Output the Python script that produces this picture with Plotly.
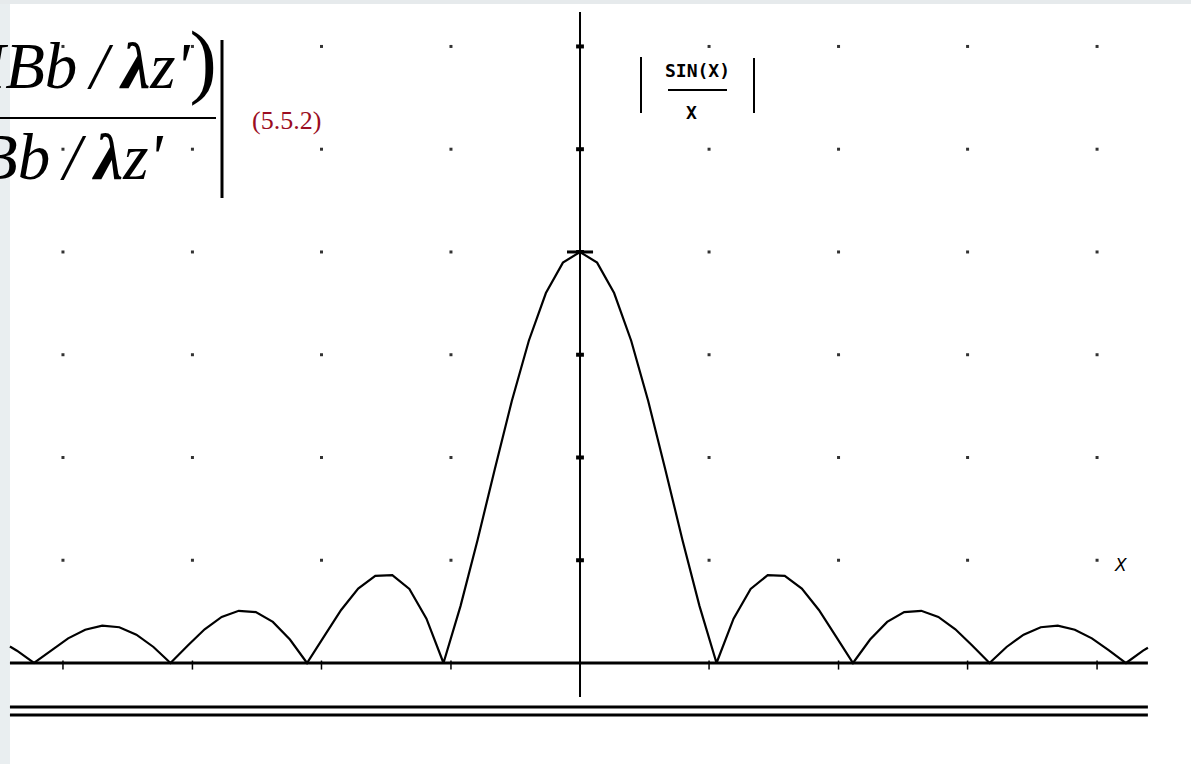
import plotly.graph_objects as go

# ---- data ----
x_pos = [0.0, 0.393, 0.785, 1.178, 1.571, 1.963, 2.356, 2.749, 3.142, 3.534, 3.927, 4.320,
         4.712, 5.105, 5.498, 5.890, 6.283, 6.676, 7.069, 7.461, 7.854, 8.247, 8.639, 9.032,
         9.425, 9.817, 10.210, 10.603, 10.996, 11.388, 11.781, 12.174, 12.566, 12.959, 13.07]
y_pos = [1.0, 0.974, 0.900, 0.784, 0.637, 0.471, 0.300, 0.139, 0.0, 0.108, 0.180, 0.214,
         0.212, 0.181, 0.129, 0.065, 0.0, 0.057, 0.100, 0.124, 0.127, 0.112, 0.082, 0.042,
         0.0, 0.039, 0.069, 0.087, 0.091, 0.081, 0.060, 0.031, 0.0, 0.030, 0.037]
x_neg = [-13.12, -12.959, -12.566, -12.174, -11.781, -11.388, -10.996, -10.603, -10.210,
         -9.817, -9.425, -9.032, -8.639, -8.247, -7.854, -7.461, -7.069, -6.676, -6.283,
         -5.890, -5.498, -5.105, -4.712, -4.320, -3.927, -3.534, -3.142, -2.749, -2.356,
         -1.963, -1.571, -1.178, -0.785, -0.393]
y_neg = [0.040, 0.030, 0.0, 0.031, 0.060, 0.081, 0.091, 0.087, 0.069,
         0.039, 0.0, 0.042, 0.082, 0.112, 0.127, 0.124, 0.100, 0.057, 0.0,
         0.065, 0.129, 0.181, 0.212, 0.214, 0.180, 0.108, 0.0, 0.139, 0.300,
         0.471, 0.637, 0.784, 0.900, 0.974]
grid_x = [-11.9, -8.92, -5.95, -2.97, 2.97, 5.95, 8.92, 11.9]
grid_y = [0.25, 0.5, 0.75, 1.0, 1.25, 1.5]
curve_label = "<b>SIN(X)</b>"
curve_label_den = "<b>X</b>"
axis_label = "<i>X</i>"
SP = "\u2009"
eq_num = ("<i>MBb" + SP + "/" + SP + "</i><b><i>λ</i></b><i>z'</i>"
          "<span style='font-size:82px'>)</span>")
eq_den = "<i>Bb" + SP + "/" + SP + "</i><b><i>λ</i></b><i>z'</i>"
eq_tag = "(5.5.2)"

W, H = 1191, 764
XMIN, XMAX = -13.349, 14.062
YMIN, YMAX = -0.2457, 1.613
LEFT, RIGHT = -13.12, 13.07

def px(x):
    return x / W

def py(y):
    return 1 - y / H

fig = go.Figure()

curve_x = x_neg + x_pos
curve_y = y_neg + y_pos
fig.add_trace(go.Scatter(x=curve_x, y=curve_y, mode="lines",
                         line=dict(color="black", width=2.2), hoverinfo="skip"))

gx, gy = [], []
for yv in grid_y:
    for xv in grid_x:
        gx.append(xv)
        gy.append(yv)
fig.add_trace(go.Scatter(x=gx, y=gy, mode="markers",
                         marker=dict(color="#333333", size=3, symbol="square"),
                         hoverinfo="skip"))

shapes = []
# background strips
shapes.append(dict(type="rect", xref="paper", yref="paper", x0=0, x1=px(10), y0=0, y1=1,
                   fillcolor="#e9eef0", line=dict(width=0), layer="below"))
shapes.append(dict(type="rect", xref="paper", yref="paper", x0=0, x1=1, y0=py(4), y1=1,
                   fillcolor="#e6eaec", line=dict(width=0), layer="below"))
# baseline and double lines
shapes.append(dict(type="line", x0=LEFT, x1=RIGHT, y0=0, y1=0, line=dict(color="black", width=3)))
shapes.append(dict(type="line", x0=LEFT, x1=RIGHT, y0=-0.107, y1=-0.107, line=dict(color="black", width=3)))
shapes.append(dict(type="line", x0=LEFT, x1=RIGHT, y0=-0.1265, y1=-0.1265, line=dict(color="black", width=3)))
# vertical axis
shapes.append(dict(type="line", x0=0, x1=0, y0=1.584, y1=-0.0827, line=dict(color="black", width=2)))
for yv in grid_y:
    shapes.append(dict(type="line", x0=-0.09, x1=0.09, y0=yv, y1=yv, line=dict(color="black", width=4)))
for xv in grid_x:
    shapes.append(dict(type="line", x0=xv, x1=xv, y0=0.006, y1=-0.016, line=dict(color="black", width=1.5)))
# peak flat top
shapes.append(dict(type="line", x0=-0.3, x1=0.3, y0=1.0, y1=1.0, line=dict(color="black", width=3)))

# SIN(X)/X label bars and fraction line
shapes.append(dict(type="line", xref="paper", yref="paper", x0=px(668), x1=px(727), y0=py(90), y1=py(90),
                   line=dict(color="black", width=2)))
shapes.append(dict(type="line", xref="paper", yref="paper", x0=px(641), x1=px(641), y0=py(57), y1=py(113),
                   line=dict(color="black", width=2)))
shapes.append(dict(type="line", xref="paper", yref="paper", x0=px(754), x1=px(754), y0=py(58), y1=py(113),
                   line=dict(color="black", width=2)))

# equation fraction line and abs bar
shapes.append(dict(type="line", xref="paper", yref="paper", x0=0, x1=px(216), y0=py(118), y1=py(118),
                   line=dict(color="black", width=2)))
shapes.append(dict(type="line", xref="paper", yref="paper", x0=px(222), x1=px(222), y0=py(40), y1=py(198),
                   line=dict(color="black", width=3)))

annotations = [
    dict(xref="paper", yref="paper", x=px(697), y=py(70), text=curve_label, showarrow=False,
         font=dict(family="DejaVu Sans Mono", size=18, color="black"), xanchor="center", yanchor="middle"),
    dict(xref="paper", yref="paper", x=px(691), y=py(113), text=curve_label_den, showarrow=False,
         font=dict(family="DejaVu Sans Mono", size=18, color="black"), xanchor="center", yanchor="middle"),
    dict(xref="paper", yref="paper", x=px(1120), y=py(565), text=axis_label, showarrow=False,
         font=dict(family="DejaVu Sans", size=17, color="black"), xanchor="center", yanchor="middle"),
    dict(xref="paper", yref="paper", x=px(219), y=py(61), text=eq_num, showarrow=False,
         font=dict(family="Liberation Serif", size=65, color="black"), xanchor="right", yanchor="middle"),
    dict(xref="paper", yref="paper", x=px(165), y=py(157), text=eq_den, showarrow=False,
         font=dict(family="Liberation Serif", size=65, color="black"), xanchor="right", yanchor="middle"),
    dict(xref="paper", yref="paper", x=px(250), y=py(120), text=eq_tag, showarrow=False,
         font=dict(family="Liberation Serif", size=26, color="#9b0d22"), xanchor="left", yanchor="middle"),
]

fig.update_layout(
    width=W, height=H,
    margin=dict(l=0, r=0, t=0, b=0),
    paper_bgcolor="white", plot_bgcolor="white",
    showlegend=False,
    xaxis=dict(range=[XMIN, XMAX], visible=False, fixedrange=True),
    yaxis=dict(range=[YMIN, YMAX], visible=False, fixedrange=True),
    shapes=shapes, annotations=annotations,
)

fig.write_html("out.html", config={"displayModeBar": False},
               post_script="document.body.style.margin='0';document.body.style.overflow='hidden';")
